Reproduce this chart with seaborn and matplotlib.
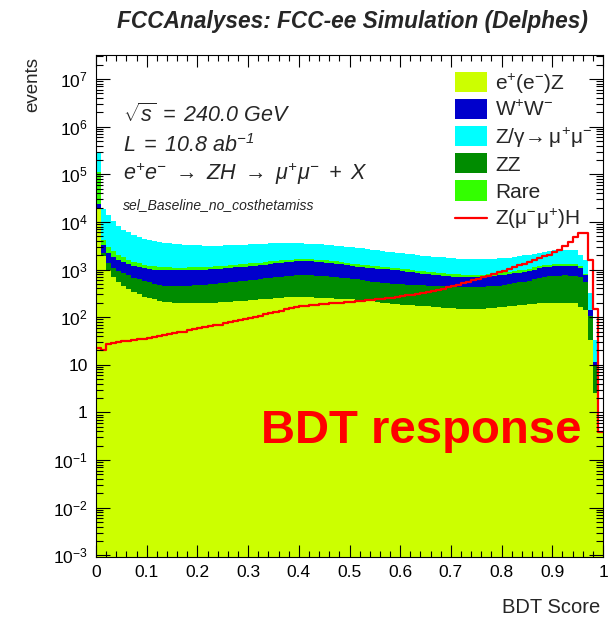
import numpy as np
import pandas as pd
import matplotlib
matplotlib.use("Agg")
import matplotlib.pyplot as plt
import seaborn as sns
from matplotlib.patches import Rectangle
from matplotlib.lines import Line2D
from matplotlib.ticker import (FixedLocator, FixedFormatter, LogLocator,
                               MultipleLocator, NullFormatter)

# ---------------------------------------------------------------------------
# Expected events per BDT-score bin (100 bins between 0 and 1)
# ---------------------------------------------------------------------------
score_range = (0.0, 1.0)
n_bins = 100

eeZ = [19000, 1900, 1000, 700, 560, 460, 390, 340, 300, 270,
       250, 235, 222, 212, 205, 200, 198, 196, 195, 195,
       196, 198, 200, 203, 206, 209, 212, 215, 218, 222,
       226, 230, 235, 240, 246, 252, 258, 263, 267, 270,
       268, 265, 262, 258, 254, 250, 247, 244, 241, 238,
       235, 232, 230, 225, 218, 210, 203, 197, 192, 188,
       184, 180, 177, 174, 171, 168, 165, 162, 159, 156,
       153, 151, 150, 150, 150, 150, 151, 153, 156, 160,
       164, 168, 173, 178, 182, 186, 190, 194, 197, 200,
       201, 201, 200, 198, 195, 166, 140, 33, 2.6, 0.39]

ZZ = [500, 300, 400, 400, 390, 390, 370, 340, 320, 300,
      285, 270, 258, 250, 247, 248, 250, 256, 263, 271,
      279, 287, 295, 303, 312, 321, 331, 341, 352, 363,
      374, 386, 397, 410, 422, 434, 447, 461, 475, 488,
      497, 495, 490, 484, 476, 468, 458, 446, 431, 417,
      403, 388, 370, 355, 342, 335, 327, 321, 316, 310,
      306, 304, 301, 298, 295, 292, 290, 288, 287, 286,
      285, 285, 285, 284, 284, 285, 286, 289, 294, 302,
      314, 328, 342, 357, 373, 389, 450, 476, 503, 520,
      534, 544, 550, 547, 535, 534, 410, 72, 6.7, 0]

WW = [4500, 1000, 800, 700, 650, 600, 540, 520, 500, 490,
      485, 495, 505, 513, 516, 515, 512, 510, 510, 509,
      510, 513, 517, 522, 527, 535, 542, 552, 562, 573,
      585, 599, 613, 625, 642, 659, 675, 691, 708, 727,
      735, 735, 728, 718, 705, 687, 665, 640, 613, 585,
      557, 535, 520, 510, 505, 500, 495, 487, 477, 462,
      445, 421, 397, 373, 354, 340, 325, 312, 299, 286,
      276, 266, 259, 256, 254, 255, 260, 268, 280, 293,
      302, 309, 315, 325, 340, 360, 360, 390, 410, 430,
      445, 455, 460, 455, 440, 400, 210, 35, 2.2, 0]

rare = [86000, 1000, 800, 600, 400, 350, 300, 250, 230, 200,
        180, 160, 145, 140, 137, 137, 138, 138, 137, 137,
        137, 137, 138, 140, 143, 145, 147, 148, 150, 152,
        155, 157, 160, 165, 168, 170, 172, 175, 175, 170,
        168, 165, 162, 160, 157, 155, 152, 148, 145, 142,
        140, 137, 135, 132, 129, 125, 121, 117, 113, 112,
        110, 108, 105, 102, 98, 92, 90, 88, 87, 87,
        86, 86, 86, 86, 86, 86, 87, 88, 88, 90,
        92, 95, 100, 103, 105, 108, 113, 115, 118, 117,
        117, 118, 117, 115, 113, 100, 60, 0, 0, 0]

Zgamma = [180000, 14800, 11000, 8100, 6300, 5100, 4400, 3850, 3450, 3140,
          2950, 2790, 2670, 2565, 2475, 2390, 2312, 2240, 2175, 2118,
          2078, 2045, 2020, 2002, 1992, 1990, 1998, 2014, 2028, 2040,
          2050, 2058, 2065, 2060, 2052, 2035, 2018, 1990, 1955, 1915,
          1882, 1860, 1838, 1810, 1788, 1760, 1728, 1702, 1670, 1638,
          1605, 1568, 1525, 1478, 1426, 1370, 1314, 1268, 1222, 1178,
          1145, 1117, 1090, 1063, 1042, 1018, 1000, 980, 963, 945,
          930, 917, 905, 892, 881, 874, 868, 864, 862, 863,
          873, 890, 915, 947, 985, 1022, 1037, 1065, 1102, 1183,
          1253, 1282, 1293, 1305, 1317, 800, 780, 176, 21.5, 0]

signal_ZH = [23, 20, 27, 29, 30, 31, 32, 33, 34, 35,
             37, 38, 40, 42, 44, 46, 48, 50, 53, 56,
             58, 61, 64, 67, 70, 74, 78, 82, 86, 91,
             96, 102, 108, 115, 122, 130, 138, 146, 154, 162,
             168, 174, 179, 183, 187, 191, 195, 199, 203, 207,
             211, 215, 219, 224, 229, 235, 241, 248, 256, 265,
             275, 286, 298, 311, 325, 340, 357, 376, 397, 420,
             445, 475, 510, 548, 590, 638, 690, 745, 805, 875,
             950, 1030, 1120, 1220, 1330, 1450, 1580, 1720, 1880, 2050,
             2300, 2600, 3100, 3700, 4800, 5800, 5800, 1600, 150, 0.39]

# legend labels (top of legend first) and stacking order (top of stack first)
legend_labels = [r"$\mathrm{e^{+}(e^{-})Z}$", r"$\mathrm{W^{+}W^{-}}$",
                 r"$\mathrm{Z/\gamma\!\rightarrow\!\,\mu^{+}\mu^{-}}$", "ZZ", "Rare"]
signal_label = r"$\mathrm{Z(\mu^{-}\mu^{+})H}$"
process_names = ["eeZ", "WW", "Zgamma", "ZZ", "Rare"]
stack_order = ["Zgamma", "Rare", "WW", "ZZ", "eeZ"]
colors = {"eeZ": "#ccff00", "WW": "#0000cc", "Zgamma": "#00ffff",
          "ZZ": "#008c00", "Rare": "#33ff00"}
signal_color = "#ff0000"

x_tick_values = [0.0, 0.1, 0.2, 0.3, 0.4, 0.5, 0.6, 0.7, 0.8, 0.9, 1.0]
x_tick_labels = ["0", "0.1", "0.2", "0.3", "0.4", "0.5", "0.6", "0.7", "0.8", "0.9", "1"]
y_tick_values = [1e-3, 1e-2, 1e-1, 1, 10, 1e2, 1e3, 1e4, 1e5, 1e6, 1e7]
y_tick_labels = [r"$10^{-3}$", r"$10^{-2}$", r"$10^{-1}$", "1", "10",
                 r"$10^{2}$", r"$10^{3}$", r"$10^{4}$", r"$10^{5}$",
                 r"$10^{6}$", r"$10^{7}$"]
y_limits = (9.2e-4, 3.2e7)

# ---------------------------------------------------------------------------
sns.set_style("ticks")
plt.rcParams["font.family"] = ["Liberation Sans", "DejaVu Sans"]
plt.rcParams["mathtext.fontset"] = "custom"
plt.rcParams["mathtext.rm"] = "Liberation Sans"
plt.rcParams["mathtext.it"] = "Liberation Sans:italic"
plt.rcParams["mathtext.bf"] = "Liberation Sans:italic"
plt.rcParams["mathtext.sf"] = "Liberation Sans"

W, H = 608, 617
fig = plt.figure(figsize=(W / 100, H / 100), dpi=100)
ax = fig.add_axes([96 / W, 1 - 557 / H, 507 / W, 502 / H])

bin_width = (score_range[1] - score_range[0]) / n_bins
bin_centers = score_range[0] + bin_width * (np.arange(n_bins) + 0.5)

yields = {"eeZ": eeZ, "WW": WW, "Zgamma": Zgamma, "ZZ": ZZ, "Rare": rare}
bkg = pd.DataFrame({
    "score": np.tile(bin_centers, len(process_names)),
    "events": np.concatenate([yields[p] for p in process_names]).astype(float),
    "process": np.repeat(process_names, n_bins),
})

sns.histplot(data=bkg, x="score", weights="events", hue="process",
             hue_order=stack_order, palette=colors, multiple="stack",
             bins=n_bins, binrange=score_range, element="step", fill=True,
             alpha=1, linewidth=0, legend=False, ax=ax)

sig = pd.DataFrame({"score": bin_centers, "events": np.asarray(signal_ZH, dtype=float)})
sns.histplot(data=sig, x="score", weights="events", bins=n_bins,
             binrange=score_range, element="step", fill=False,
             color=signal_color, linewidth=1.6, ax=ax)

ax.set_yscale("log")
ax.set_xlim(score_range)
ax.set_ylim(y_limits)
ax.set_xlabel("")
ax.set_ylabel("")
ax.set_axisbelow(False)
for s in ax.spines.values():
    s.set_visible(True)
    s.set_linewidth(0.8)
    s.set_color("black")
    s.set_zorder(5)

ax.xaxis.set_major_locator(FixedLocator(x_tick_values))
ax.xaxis.set_major_formatter(FixedFormatter(x_tick_labels))
ax.xaxis.set_minor_locator(MultipleLocator(0.02))
ax.yaxis.set_major_locator(FixedLocator(y_tick_values))
ax.yaxis.set_major_formatter(FixedFormatter(y_tick_labels))
ax.yaxis.set_minor_locator(LogLocator(base=10, subs=np.arange(2, 10), numticks=30))
ax.yaxis.set_minor_formatter(NullFormatter())

ax.tick_params(which="both", direction="in", top=True, right=True,
               width=0.8, color="black", labelcolor="black")
ax.tick_params(axis="x", which="major", length=8.5, pad=6, labelsize=12.5)
ax.tick_params(axis="x", which="minor", length=4.3)
ax.tick_params(axis="y", which="major", length=10, pad=6, labelsize=12.5)
ax.tick_params(axis="y", which="minor", length=5)


def px(x, y):
    return x / W, 1 - y / H


# axis titles (ROOT style: at the ends of the axes)
fig.text(*px(600, 613), "BDT Score", ha="right", va="baseline", fontsize=14.5)
fig.text(*px(33, 57), "events", ha="center", va="top", rotation=90, fontsize=13.5)

# header
fig.text(*px(352, 28), "FCCAnalyses: FCC-ee Simulation (Delphes)",
         ha="center", va="baseline", fontsize=16.3, fontweight="bold", style="italic")

# analysis info
fig.text(*px(123, 122), r"$\sqrt{s}\mathbf{\;=\;240.0\ GeV}$", ha="left", va="baseline", fontsize=15.5)
fig.text(*px(123, 152), r"$\mathbf{L\;=\;10.8\ ab^{-1}}$", ha="left", va="baseline", fontsize=15.5)
fig.text(*px(123, 180), r"$\mathbf{e^{+}e^{-}\ \rightarrow\ ZH\ \rightarrow\ \mu^{+}\mu^{-}\ +\ X}$",
         ha="left", va="baseline", fontsize=15.5)
fig.text(*px(123, 209), "sel_Baseline_no_costhetamiss", ha="left", va="baseline",
         fontsize=10, style="italic")

# big label
fig.text(*px(261, 443), "BDT response", ha="left", va="baseline", fontsize=34,
         fontweight="bold", color="#ff0000")

# legend
row_centers = [82, 108.8, 136.3, 163.3, 190.5]
for name, label, yc in zip(process_names, legend_labels, row_centers):
    x0, y0 = px(455, yc + 10)
    fig.add_artist(Rectangle((x0, y0), 32 / W, 20 / H, transform=fig.transFigure,
                             facecolor=colors[name], edgecolor="none"))
    fig.text(*px(495, yc + 7.5), label, ha="left", va="baseline", fontsize=15)
ys = 1 - 217.5 / H
fig.add_artist(Line2D([455 / W, 487 / W], [ys, ys], transform=fig.transFigure,
                      color=signal_color, linewidth=1.6))
fig.text(*px(495, 217.5 + 7.5), signal_label, ha="left", va="baseline", fontsize=15)

fig.savefig("out.png", dpi=100)
